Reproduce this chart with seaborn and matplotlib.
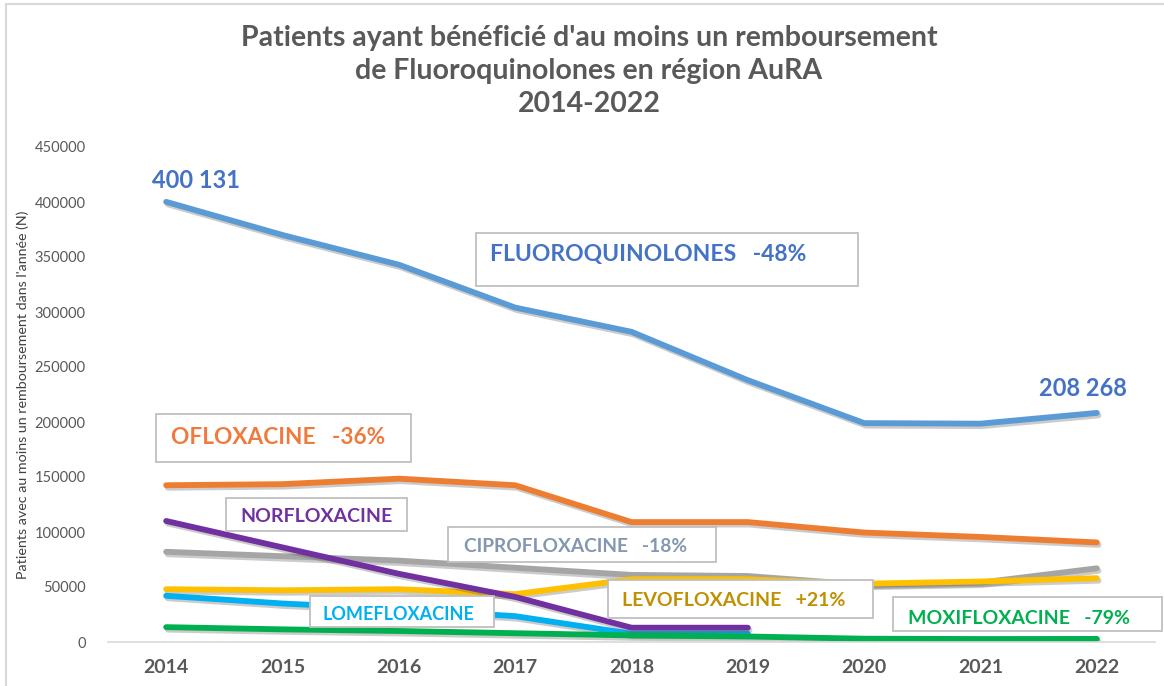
import matplotlib
matplotlib.use("Agg")
import matplotlib.pyplot as plt
import matplotlib.patheffects as pe
from matplotlib.patches import Rectangle
import numpy as np
import pandas as pd
import seaborn as sns

# Data
years = [2014, 2015, 2016, 2017, 2018, 2019, 2020, 2021, 2022]
fluoroquinolones = [400131, 370000, 343000, 304000, 282000, 238000, 199000, 198500, 208268]
ofloxacine = [142500, 143500, 148500, 142500, 109000, 109000, 99500, 95500, 90500]
norfloxacine = [110000, 86000, 62000, 41000, 13000, 13000, np.nan, np.nan, np.nan]
ciprofloxacine = [82000, 78000, 74000, 67500, 61000, 60000, 52000, 54000, 67000]
levofloxacine = [48000, 47000, 48000, 43500, 57000, 57000, 53000, 55000, 58000]
lomefloxacine = [42000, 35000, 30000, 23500, 7500, 7500, np.nan, np.nan, np.nan]
moxifloxacine = [13500, 11500, 10000, 8000, 6000, 5000, 3000, 2700, 2800]

series = {
    "CIPROFLOXACINE": ciprofloxacine,
    "LEVOFLOXACINE": levofloxacine,
    "LOMEFLOXACINE": lomefloxacine,
    "MOXIFLOXACINE": moxifloxacine,
    "OFLOXACINE": ofloxacine,
    "NORFLOXACINE": norfloxacine,
    "FLUOROQUINOLONES": fluoroquinolones,
}
line_colors = {
    "FLUOROQUINOLONES": "#5B9BD5",
    "OFLOXACINE": "#ED7D31",
    "NORFLOXACINE": "#7030A0",
    "CIPROFLOXACINE": "#A5A5A5",
    "LEVOFLOXACINE": "#FFC000",
    "LOMEFLOXACINE": "#00B0F0",
    "MOXIFLOXACINE": "#00B050",
}

df = pd.DataFrame(
    [(name, y, v) for name, vals in series.items() for y, v in zip(years, vals)],
    columns=["molecule", "year", "patients"],
).dropna()

sns.set_style("white")
plt.rcParams["font.family"] = ["Lato", "DejaVu Sans"]

W, H = 1164, 686
fig = plt.figure(figsize=(W / 100, H / 100), dpi=100)


def fx(x):
    return x / W


def fy(y):
    return 1 - y / H


ax = fig.add_axes([fx(108), fy(642), fx(1155) - fx(108), fy(147) - fy(642)])

for name in series:
    sns.lineplot(data=df[df["molecule"] == name], x="year", y="patients",
                 color=line_colors[name], linewidth=4.2, ax=ax,
                 solid_capstyle="round", solid_joinstyle="round")
for line in ax.lines:
    line.set_path_effects([pe.SimpleLineShadow(offset=(1.2, -1.8), alpha=0.3, shadow_color="#555555"),
                           pe.Normal()])

ax.set_xlim(2013.5, 2022.5)
ax.set_ylim(0, 450000)
ax.set_yticks(range(0, 450001, 50000))
ax.set_xticks(years)
ax.tick_params(axis="y", labelsize=10.5, labelcolor="#595959", length=0, pad=16)
ax.tick_params(axis="x", labelsize=14, labelcolor="#595959", length=0, pad=12)
for lab in ax.get_xticklabels():
    lab.set_fontweight("bold")
for s in ["top", "right", "left"]:
    ax.spines[s].set_visible(False)
ax.spines["bottom"].set_color("#D9D9D9")
ax.spines["bottom"].set_linewidth(1.2)
ax.set_xlabel("")
ax.set_ylabel("Patients avec au moins un remboursement dans l'année (N)",
              fontsize=10.3, color="#404040")
ax.yaxis.set_label_coords(-0.075, 0.5)

# Title
title_lines = ["Patients ayant bénéficié d'au moins un remboursement",
               "de Fluoroquinolones en région AuRA",
               "2014-2022"]
for line_txt, yy in zip(title_lines, [38, 71, 104]):
    fig.text(fx(589), fy(yy), line_txt, ha="center", va="center",
             fontsize=20.5, fontweight="bold", color="#595959")

# Outer chart frame
fig.add_artist(Rectangle((fx(6), fy(700)), fx(1200), fy(4) - fy(700), transform=fig.transFigure,
                         fill=False, edgecolor="#D9D9D9", linewidth=1.5))

# Value labels
fig.text(fx(196), fy(181), "400 131", ha="center", va="center",
         fontsize=17, fontweight="bold", color="#4472C4")
fig.text(fx(1083), fy(388), "208 268", ha="center", va="center",
         fontsize=17, fontweight="bold", color="#4472C4")

# Labelled boxes: (text, x0, y0, x1, y1, text x, text y, colour, size)
boxes = [
    ("FLUOROQUINOLONES   -48%", 476, 233, 858, 286, 490, 255, "#4472C4", 16.5),
    ("OFLOXACINE   -36%", 156, 414, 411, 462, 171, 438, "#F07A3E", 16.3),
    ("NORFLOXACINE", 226, 498, 407, 531, 240, 517, "#7030A0", 14),
    ("CIPROFLOXACINE   -18%", 448, 527, 716, 562, 464, 547, "#8497B0", 13.8),
    ("LOMEFLOXACINE", 310, 596, 494, 627, 323, 614, "#00B0F0", 13),
    ("LEVOFLOXACINE   +21%", 608, 580, 873, 618, 622, 601, "#BF9000", 14),
    ("MOXIFLOXACINE   -79%", 893, 597, 1162, 631, 908, 618, "#00B050", 14),
]
for text, x0, y0, x1, y1, tx, ty, col, size in boxes:
    fig.add_artist(Rectangle((fx(x0), fy(y1)), fx(x1) - fx(x0), fy(y0) - fy(y1),
                             transform=fig.transFigure, facecolor="white",
                             edgecolor="#BFBFBF", linewidth=1.3))
    fig.text(fx(tx), fy(ty), text, ha="left", va="center",
             fontsize=size, fontweight="bold", color=col)

fig.savefig("out.png", dpi=100)
